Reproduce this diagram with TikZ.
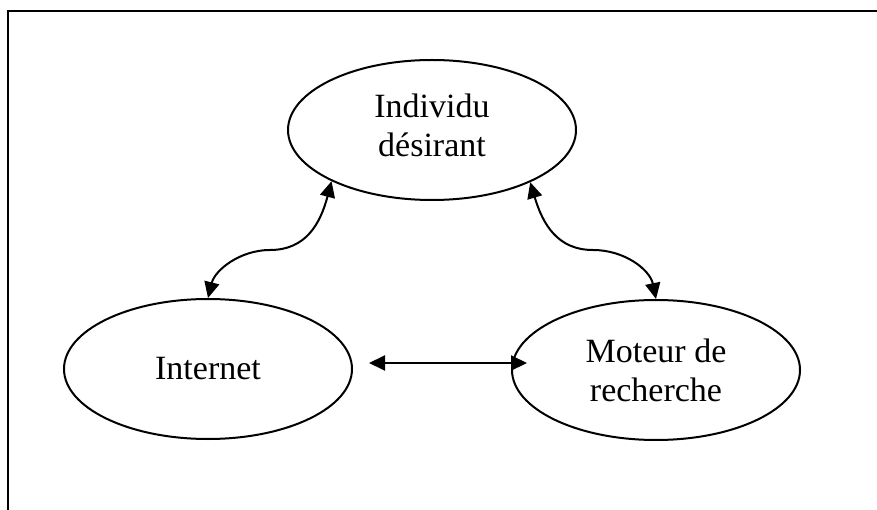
\documentclass[tikz,border=0pt]{standalone}
\usepackage{fontspec}
\setmainfont{Liberation Serif}
\usetikzlibrary{shapes.geometric,arrows.meta}
\begin{document}
\begin{tikzpicture}[x=1pt,y=-1pt,
  bubble/.style={draw,ellipse,line width=2pt,inner sep=0pt,
    minimum width=288pt,minimum height=140pt,align=center,
    font=\fontsize{34pt}{39pt}\selectfont},
  link/.style={line width=2pt,{Triangle[length=16pt,width=15pt]}-{Triangle[length=16pt,width=15pt]}},
  frame/.style={line width=2.5pt}]
\useasboundingbox (0,0) rectangle (877,510);
\coordinate (fa) at (8,510);
\coordinate (fb) at (8,11);
\coordinate (fc) at (877,11);
\draw[frame] (fa) -- (fb) -- (fc);
\node[bubble] (ind) at (432,130) {Individu\\désirant\\[-29pt]\mbox{}};
\node[bubble] (net) at (208,369) {Internet};
\node[bubble] (mot) at (656,370) {Moteur de\\recherche};
\coordinate (lm) at (270,250);
\coordinate (rm) at (593,250);
\coordinate (ha) at (369,363);
\coordinate (hb) at (527,363);
\draw[link] (ind.207.5) .. controls (320,225) and (305,250) .. (lm)
  .. controls (240,250) and (215,270) .. (net.90);
\draw[link] (ind.332) .. controls (543,225) and (558,250) .. (rm)
  .. controls (625,250) and (650,270) .. (mot.90);
\draw[link] (ha) -- (hb);
\end{tikzpicture}
\end{document}
